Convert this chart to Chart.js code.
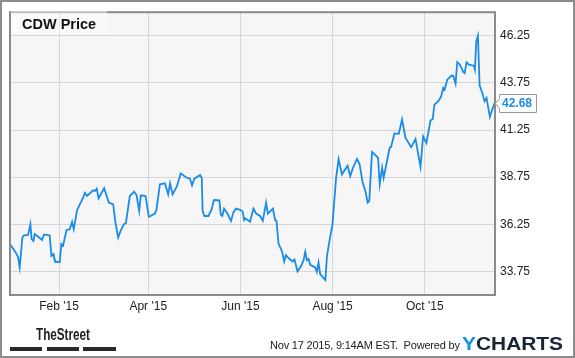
<!DOCTYPE html>
<html><head><meta charset="utf-8">
<script src="https://cdn.jsdelivr.net/npm/chart.js@4"></script>
<style>
html,body{margin:0;padding:0;background:#fff;}
#wrap{position:relative;width:575px;height:358px;overflow:hidden;font-family:"Liberation Sans",Arial,sans-serif;}
#c{position:absolute;left:0;top:0;}
.frame{position:absolute;left:0;top:0;width:575px;height:358px;box-sizing:border-box;border:2px solid #8c8c8c;pointer-events:none;}
.title{position:absolute;left:11px;top:11px;width:96px;height:23px;background:rgba(255,255,255,0.45);font-weight:bold;font-size:14.5px;color:#111;line-height:26px;padding-left:11px;box-sizing:border-box;overflow:visible;}
.street{position:absolute;left:36px;top:327px;font-weight:bold;font-size:16px;line-height:1;color:#222;transform:scaleX(0.73);transform-origin:left top;white-space:nowrap;}
.bar{position:absolute;top:347px;height:4px;background:#2a2a2a;}
.stamp{position:absolute;left:270px;top:340px;font-size:11px;line-height:1;letter-spacing:-0.2px;color:#222;white-space:nowrap;}
.ych{position:absolute;left:462px;top:333.5px;font-weight:bold;font-size:19px;line-height:1;color:#172535;white-space:nowrap;transform:scaleX(1.1);transform-origin:left top;}
.ych span{color:#1a8fe3;}
</style>
</head><body>
<div id="wrap">
<canvas id="c" width="575" height="358"></canvas>
<div class="title">CDW Price</div>
<div class="street">TheStreet</div>
<div class="bar" style="left:10px;width:32px"></div>
<div class="bar" style="left:47px;width:32px"></div>
<div class="bar" style="left:83px;width:33px"></div>
<div class="stamp">Nov 17 2015, 9:14AM EST.&nbsp; Powered by</div>
<div class="ych"><span>Y</span>CHARTS</div>
<div class="frame"></div>
</div>
<script>
// day offsets from Jan 1 2015
const days = [-1.1,1.6,3.8,4.9,6.7,7.7,10.4,12.0,12.8,14.0,14.8,17.0,19.7,21.0,24.8,25.9,27.0,27.6,28.8,31.4,32.5,33.6,35.9,38.0,39.6,40.7,42.9,44.7,46.9,48.0,49.5,53.5,54.8,55.9,57.1,60.8,63.9,66.8,68.3,70.1,71.7,73.9,75.2,77.8,80.7,82.3,84.0,85.1,88.2,90.4,94.4,95.5,97.7,101.0,103.2,104.4,106.1,108.8,111.5,115.4,117.6,119.0,120.5,124.3,125.4,126.0,127.1,129.8,132.0,133.5,137.1,138.0,139.0,140.2,142.4,144.8,146.3,148.1,151.2,152.6,153.4,154.1,157.4,159.6,161.4,164.0,165.8,168.0,169.2,172.5,174.0,174.9,176.2,178.4,180.0,181.1,182.8,185.5,186.8,188.8,191.2,192.8,193.9,195.0,196.1,197.2,200.5,201.6,202.7,203.8,207.2,208.3,210.5,211.9,214.3,216.0,218.2,221.9,223.7,225.5,228.2,229.9,231.9,233.7,235.2,236.3,238.1,242.1,243.2,244.8,245.8,249.8,250.7,252.9,255.8,258.0,260.2,264.0,266.9,270.2,271.9,274.1,276.8,278.3,279.4,282.3,283.9,285.2,286.1,287.9,290.7,291.8,293.4,294.5,296.2,298.5,299.4,300.7,302.2,305.5,306.2,307.1,308.2,309.3,311.1,312.6,313.9,316.1,317.7,319.2];
const prices = [35.15,34.84,34.53,33.96,35.55,35.67,35.69,36.26,35.46,35.37,35.73,35.60,35.42,35.71,35.65,34.58,34.67,34.49,34.26,34.25,35.20,35.11,35.94,35.99,36.38,35.99,37.00,37.31,37.66,37.91,37.75,38.05,38.02,38.14,37.63,38.16,37.40,37.31,36.34,35.55,35.90,36.26,36.31,37.75,37.98,37.79,36.96,37.79,37.75,36.64,36.82,37.05,38.37,38.42,37.84,38.42,37.84,38.23,38.95,38.72,38.67,38.32,38.67,38.86,38.72,36.96,36.69,36.69,37.05,37.54,37.52,36.75,36.69,37.08,36.82,36.43,36.87,37.08,37.00,36.91,36.48,36.57,36.39,37.08,36.82,36.69,36.43,37.40,36.82,37.08,36.47,36.43,35.23,34.84,34.28,34.62,34.46,34.28,34.38,33.75,34.05,34.35,34.79,34.35,34.41,34.10,33.96,33.73,34.22,33.61,33.29,34.58,35.64,36.20,38.70,39.70,38.90,39.36,38.81,39.25,39.72,39.43,38.46,38.02,37.40,37.49,40.09,39.78,38.37,39.25,38.72,40.31,40.34,41.07,41.05,41.81,40.84,40.34,40.78,39.30,40.92,40.57,41.75,41.84,42.60,42.81,43.04,43.48,43.39,43.92,44.13,44.13,43.71,44.85,44.72,44.33,44.27,44.84,44.72,44.66,44.45,45.95,46.25,43.62,43.21,42.78,42.95,41.95,42.34,42.68];
const xTickDays = [31, 90, 151, 212, 273];
const xTickLabels = ["Feb '15", "Apr '15", "Jun '15", "Aug '15", "Oct '15"];
const yTickValues = [33.75, 36.25, 38.75, 41.25, 43.75, 46.25];

const FONT = '"Liberation Sans", Arial, sans-serif';
const LINE = '#1a8ce8';

const frame = {
  id: 'frame',
  beforeDraw(chart) {
    const {ctx, chartArea: a} = chart;
    ctx.save();
    ctx.fillStyle = '#f6f6f6';
    ctx.fillRect(a.left, a.top, a.right - a.left, a.bottom - a.top);
    ctx.restore();
  },
  afterDraw(chart) {
    const {ctx, chartArea: a} = chart;
    ctx.save();
    ctx.strokeStyle = '#8a8a8a';
    ctx.lineWidth = 2;
    ctx.strokeRect(a.left, a.top, a.right - a.left, a.bottom - a.top);
    // last value label
    const ys = chart.scales.y;
    const last = prices[prices.length - 1];
    const y = Math.round(ys.getPixelForValue(last)) + 0.5;
    const x0 = 499.5, x1 = 536.5, h = 18;
    ctx.beginPath();
    ctx.moveTo(x0, y - h / 2);
    ctx.lineTo(x1, y - h / 2);
    ctx.lineTo(x1, y + h / 2);
    ctx.lineTo(x0, y + h / 2);
    ctx.lineTo(x0, y + 5);
    ctx.lineTo(x0 - 4, y);
    ctx.lineTo(x0, y - 5);
    ctx.closePath();
    ctx.fillStyle = '#fff';
    ctx.fill();
    ctx.strokeStyle = '#999';
    ctx.lineWidth = 1;
    ctx.stroke();
    ctx.fillStyle = LINE;
    ctx.font = 'bold 12px ' + FONT;
    ctx.textBaseline = 'middle';
    ctx.textAlign = 'left';
    ctx.fillText(last.toFixed(2), 502, y + 0.5);
    ctx.restore();
  }
};

new Chart(document.getElementById('c'), {
  type: 'line',
  data: {
    datasets: [{
      data: days.map((d, i) => ({x: d, y: prices[i]})),
      borderColor: LINE,
      borderWidth: 1.8,
      pointRadius: 0,
      tension: 0,
      fill: false
    }]
  },
  options: {
    responsive: false,
    animation: false,
    layout: {padding: {left: 10, top: 10, right: 0, bottom: 0}},
    plugins: {legend: {display: false}, tooltip: {enabled: false}},
    scales: {
      x: {
        type: 'linear', min: -1.5, max: 319.5,
        afterBuildTicks: s => { s.ticks = xTickDays.map(v => ({value: v})); },
        afterFit: s => { s.height = 63; },
        grid: {color: '#d6d6d6', drawTicks: false, lineWidth: 1},
        border: {display: false},
        ticks: {
          autoSkip: false, maxRotation: 0, padding: 4, color: '#222',
          font: {size: 12, family: FONT},
          callback: v => { const i = xTickDays.indexOf(v); return i >= 0 ? xTickLabels[i] : ''; }
        }
      },
      y: {
        position: 'right', min: 32.5, max: 47.5,
        afterBuildTicks: s => { s.ticks = yTickValues.map(v => ({value: v})); },
        afterFit: s => { s.width = 80; },
        grid: {color: '#d6d6d6', drawTicks: false, lineWidth: 1},
        border: {display: false},
        ticks: {
          padding: 5, color: '#222',
          font: {size: 12, family: FONT},
          callback: v => Number(v).toFixed(2)
        }
      }
    }
  },
  plugins: [frame]
});
</script>
</body></html>
